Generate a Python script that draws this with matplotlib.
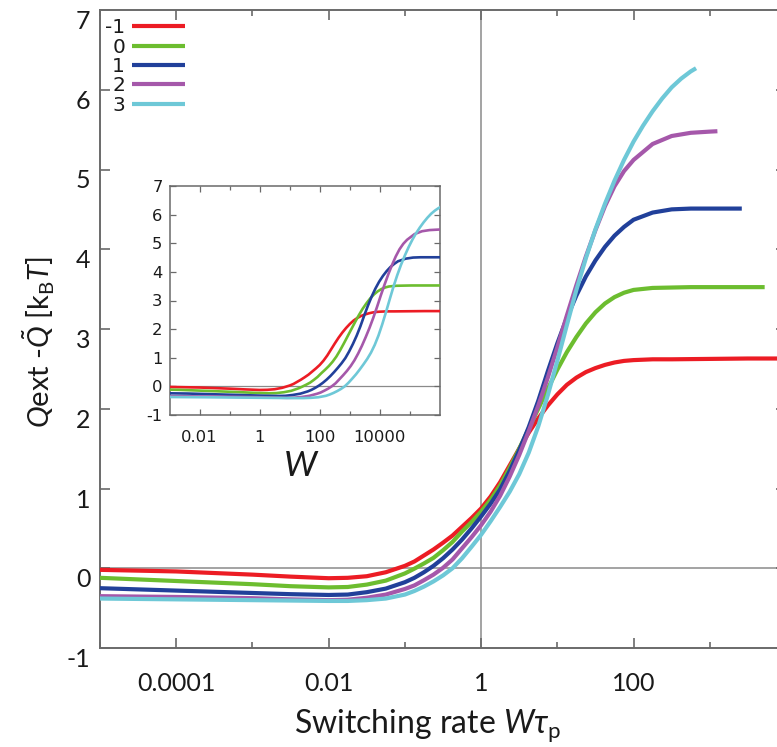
import numpy as np
import matplotlib
matplotlib.use("Agg")
import matplotlib.pyplot as plt
from matplotlib.ticker import FixedLocator, FixedFormatter, NullFormatter

plt.rcParams["mathtext.fontset"] = "custom"
plt.rcParams["mathtext.rm"] = "Lato"
plt.rcParams["mathtext.it"] = "Lato:italic"
plt.rcParams["mathtext.bf"] = "Lato:bold"

# ---- data: log10 of the dimensionless switching rate W*tau_p and heat difference [kBT]
labels = ["-1", "0", "1", "2", "3"]
colors = ["#ec1c24", "#6cbd2f", "#21409a", "#a558aa", "#6ec8d7"]
tau_p = [0.01, 0.005, 0.0025, 0.00125, 0.000625]

# sampling points shared by every curve (log10 W*tau_p)
log_rate_core = [-6.5, -5, -4, -3, -2.5, -2, -1.75, -1.5, -1.25, -1.0, -0.875, -0.75,
                 -0.625, -0.5, -0.375, -0.25, -0.125, 0, 0.125, 0.25, 0.375, 0.5, 0.625,
                 0.75, 0.875, 1.0, 1.125, 1.25, 1.375, 1.5, 1.625, 1.75, 1.875, 2.0]

dq_m1 = [0.0, -0.02, -0.04, -0.08, -0.105, -0.125, -0.12, -0.10, -0.05, 0.03, 0.085, 0.16,
         0.235, 0.32, 0.41, 0.52, 0.63, 0.75, 0.90, 1.08, 1.29, 1.50, 1.70,
         1.88, 2.04, 2.18, 2.30, 2.39, 2.46, 2.51, 2.55, 2.58, 2.60, 2.61]
tail_x_m1 = [2.25, 2.5, 3.0, 3.5, 4.0]
tail_y_m1 = [2.62, 2.62, 2.625, 2.63, 2.63]

dq_0 = [-0.09, -0.12, -0.16, -0.20, -0.225, -0.24, -0.235, -0.205, -0.155, -0.065, -0.005, 0.06,
        0.13, 0.225, 0.33, 0.46, 0.58, 0.71, 0.86, 1.04, 1.26, 1.50, 1.75,
        2.00, 2.25, 2.49, 2.71, 2.90, 3.07, 3.21, 3.32, 3.40, 3.455, 3.49]
tail_x_0 = [2.25, 2.5, 2.75, 3.0, 3.5, 3.72]
tail_y_0 = [3.515, 3.52, 3.525, 3.525, 3.525, 3.525]

dq_1 = [-0.23, -0.25, -0.28, -0.31, -0.325, -0.335, -0.33, -0.30, -0.255, -0.175, -0.12, -0.05,
        0.03, 0.125, 0.235, 0.36, 0.50, 0.65, 0.81, 0.99, 1.22, 1.48, 1.77,
        2.10, 2.47, 2.82, 3.14, 3.42, 3.66, 3.86, 4.03, 4.17, 4.28, 4.37]
tail_x_1 = [2.25, 2.5, 2.75, 3.0, 3.42]
tail_y_1 = [4.46, 4.50, 4.51, 4.51, 4.51]

dq_2 = [-0.34, -0.35, -0.36, -0.375, -0.39, -0.40, -0.395, -0.37, -0.33, -0.26, -0.215, -0.15,
        -0.08, 0.005, 0.11, 0.25, 0.39, 0.54, 0.71, 0.91, 1.15, 1.42, 1.72,
        2.04, 2.39, 2.77, 3.17, 3.55, 3.91, 4.24, 4.54, 4.79, 4.98, 5.12]
tail_x_2 = [2.25, 2.5, 2.75, 3.0, 3.10]
tail_y_2 = [5.32, 5.42, 5.46, 5.475, 5.48]

dq_3 = [-0.37, -0.38, -0.39, -0.40, -0.405, -0.41, -0.41, -0.40, -0.38, -0.33, -0.285, -0.23,
        -0.165, -0.09, 0.0, 0.125, 0.27, 0.42, 0.59, 0.77, 0.96, 1.18, 1.45,
        1.78, 2.17, 2.60, 3.05, 3.49, 3.89, 4.25, 4.57, 4.86, 5.12, 5.35]
tail_x_3 = [2.125, 2.25, 2.375, 2.5, 2.625, 2.75, 2.82]
tail_y_3 = [5.55, 5.73, 5.89, 6.03, 6.14, 6.23, 6.27]

series_y = [dq_m1, dq_0, dq_1, dq_2, dq_3]
tails_x = [tail_x_m1, tail_x_0, tail_x_1, tail_x_2, tail_x_3]
tails_y = [tail_y_m1, tail_y_0, tail_y_1, tail_y_2, tail_y_3]

main_xticks = [1e-4, 1e-2, 1, 1e2]
main_xticklabels = ["0.0001", "0.01", "1", "100"]
inset_xticks = [1e-2, 1, 1e2, 1e4]
inset_xticklabels = ["0.01", "1", "100", "10000"]
yticks = [-1, 0, 1, 2, 3, 4, 5, 6, 7]

W, H = 777, 747
fig = plt.figure(figsize=(W / 100, H / 100), dpi=100)


def fx(px):
    return px / W


def fy(py):
    return 1 - py / H


spine_col = "#6a6a6a"
ref_col = "#8a8a8a"

# ---- main axes
ax = fig.add_axes([fx(100), fy(648), fx(786 - 100), (648 - 10) / H])
ax.set_xscale("log")
ax.set_xlim(1e-5, 1e4)
ax.set_ylim(-1, 7)
ax.axhline(0, color=ref_col, lw=1.1, zorder=1)
ax.axvline(1, color=ref_col, lw=1.1, zorder=1)

curves = []
for ly, tx, ty in zip(series_y, tails_x, tails_y):
    lx = np.asarray(log_rate_core + tx)
    curves.append((10 ** lx, np.asarray(ly + ty)))

for (x, y), c, lab in zip(curves, colors, labels):
    ax.plot(x, y, color=c, lw=3.0, label=lab, solid_capstyle="butt",
            solid_joinstyle="round", zorder=3)

ax.xaxis.set_major_locator(FixedLocator(main_xticks))
ax.xaxis.set_major_formatter(FixedFormatter(main_xticklabels))
ax.xaxis.set_minor_locator(FixedLocator([1e-5, 1e-3, 1e-1, 1e1, 1e3]))
ax.xaxis.set_minor_formatter(NullFormatter())
ax.yaxis.set_major_locator(FixedLocator(yticks))
ax.yaxis.set_major_formatter(FixedFormatter([str(v) for v in yticks]))
ax.tick_params(which="both", direction="in", top=True, right=True,
               color=spine_col, width=1.2, labelfontfamily="Lato",
               labelsize=18, labelcolor="#1a1a1a")
ax.tick_params(which="major", length=7)
ax.tick_params(which="minor", length=4)
ax.tick_params(axis="x", which="major", pad=17)
ax.tick_params(axis="y", which="major", pad=7)
for t in ax.get_yticklabels():
    t.set_verticalalignment("top")
for s in ax.spines.values():
    s.set_color(spine_col)
    s.set_linewidth(1.4)

leg = ax.legend(loc="upper left", bbox_to_anchor=(0.0, 0.995), frameon=False,
                markerfirst=False, handlelength=2.6, handletextpad=0.35,
                labelspacing=0.02, borderaxespad=0.0, borderpad=0.25,
                prop={"family": "DejaVu Sans", "size": 14.5})
for t in leg.get_texts():
    t.set_color("#1a1a1a")

fig.text(fx(428), fy(733), r"Switching rate $W\tau_{\rm p}$", ha="center", va="baseline",
         fontsize=23, family="Lato", color="#1a1a1a")
fig.text(fx(39), fy(342), r"$Q$ext -$\tilde{Q}$ [k$_{\rm B}$$T$]", ha="center", va="center",
         rotation=90, fontsize=21, family="Lato", color="#1a1a1a")

# ---- inset: same curves against the bare switching rate W
axi = fig.add_axes([fx(169.5), fy(415), fx(440 - 169.5), (415 - 186) / H])
axi.set_xscale("log")
axi.set_xlim(1e-3, 1e6)
axi.set_ylim(-1, 7)
axi.axhline(0, color=ref_col, lw=0.9, zorder=1)
for (x, y), c, tp in zip(curves, colors, tau_p):
    axi.plot(x / tp, y, color=c, lw=1.9, solid_joinstyle="round", zorder=3)

axi.xaxis.set_major_locator(FixedLocator(inset_xticks))
axi.xaxis.set_major_formatter(FixedFormatter(inset_xticklabels))
axi.xaxis.set_minor_locator(FixedLocator([1e-1, 1e1, 1e3, 1e5]))
axi.xaxis.set_minor_formatter(NullFormatter())
axi.yaxis.set_major_locator(FixedLocator(yticks))
axi.yaxis.set_major_formatter(FixedFormatter([str(v) for v in yticks]))
axi.tick_params(which="both", direction="in", top=True, right=True,
                color=spine_col, width=0.9, labelsize=11.8, labelcolor="#1a1a1a",
                labelfontfamily="DejaVu Sans")
axi.tick_params(which="major", length=4.5)
axi.tick_params(which="minor", length=3)
axi.tick_params(axis="x", which="major", pad=11)
axi.tick_params(axis="y", which="major", pad=5)
for s in axi.spines.values():
    s.set_color(spine_col)
    s.set_linewidth(1.1)

fig.text(fx(301), fy(476), r"$W$", ha="center", va="baseline", fontsize=25,
         family="Lato", color="#1a1a1a")

fig.savefig("out.png", dpi=100)
